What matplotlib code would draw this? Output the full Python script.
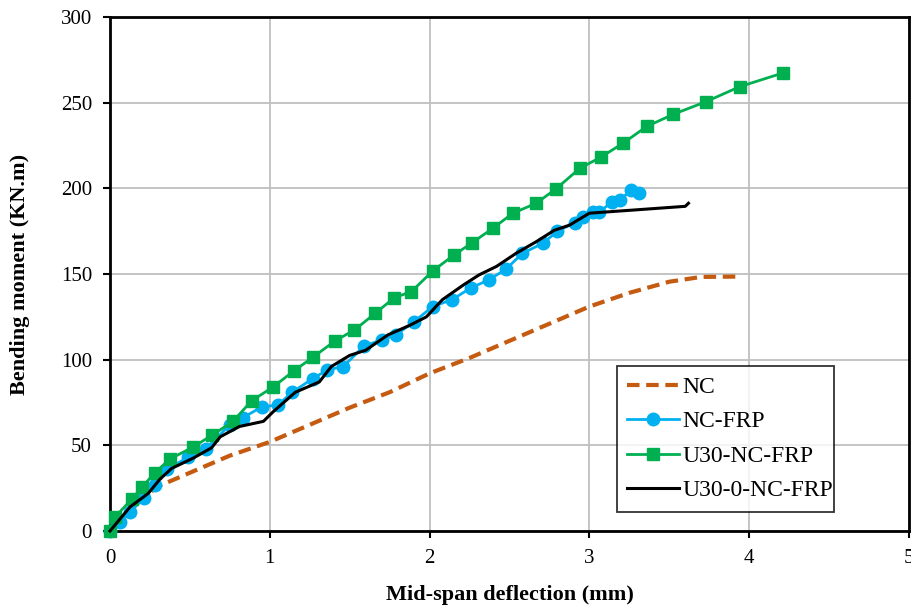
import matplotlib.pyplot as plt

plt.rcParams['font.family'] = ['Liberation Serif', 'DejaVu Serif']

# NC (dashed orange)
nc_x = [0, 0.1, 0.2, 0.3, 0.5, 0.75, 1.0, 1.25, 1.5, 1.75, 2.0, 2.25, 2.5, 2.75,
        3.0, 3.25, 3.5, 3.7, 3.93]
nc_y = [0, 10, 19, 26, 34, 44, 52, 62, 72, 81, 92, 101, 111, 121,
        131, 139, 145.5, 148.3, 148.5]

# NC-FRP (blue circles)
frp_x = [0, 0.06, 0.125, 0.21, 0.28, 0.354, 0.49, 0.6, 0.75, 0.83, 0.95, 1.05,
         1.14, 1.27, 1.36, 1.46, 1.59, 1.70, 1.79, 1.90, 2.02, 2.14, 2.26, 2.37,
         2.48, 2.58, 2.71, 2.80, 2.91, 2.96, 3.02, 3.06, 3.14, 3.19, 3.26, 3.31]
frp_y = [0, 5, 11, 19, 27, 36, 43, 48, 62, 66, 72.5, 73.5,
         81, 89, 94, 96, 108, 111.5, 114.5, 122, 131, 135, 142, 146.5,
         153, 162, 168, 175, 180, 183, 186, 186, 192, 193, 199, 197.5]

# U30-NC-FRP (green squares)
u30_x = [0, 0.03, 0.135, 0.2, 0.28, 0.375, 0.52, 0.64, 0.77, 0.886, 1.02, 1.15,
         1.27, 1.41, 1.53, 1.66, 1.78, 1.886, 2.02, 2.15, 2.267, 2.396, 2.52,
         2.667, 2.79, 2.94, 3.07, 3.21, 3.36, 3.525, 3.73, 3.94, 4.21]
u30_y = [0, 8, 18.5, 25.5, 34, 42, 49, 56, 64, 76, 84, 93.4,
         101.4, 111.1, 117.3, 127.1, 136.2, 139.7, 151.8, 160.9, 168.3, 176.7, 185.4,
         191.3, 199.6, 211.7, 218.1, 226.3, 236.2, 243.2, 250.6, 259.3, 267.3]

# U30-0-NC-FRP (black line)
u300_x = [0, 0.125, 0.24, 0.31, 0.385, 0.52, 0.635, 0.69, 0.81, 0.96, 1.02, 1.16,
          1.31, 1.385, 1.5, 1.6, 1.74, 1.875, 1.98, 2.08, 2.21, 2.31, 2.42, 2.54,
          2.67, 2.78, 2.875, 3.0, 3.6, 3.62]
u300_y = [0, 14, 22, 30, 36.5, 42.5, 48.5, 55, 61, 64, 69.5, 81,
          87, 96, 102.5, 105.5, 114.5, 120, 125, 135, 143.5, 149.5, 154.5, 162,
          169, 175.5, 178.5, 185.5, 189.5, 191.3]

fig = plt.figure(figsize=(9.12, 6.05), dpi=100)
ax = fig.add_axes([0.1206, 0.1223, 0.8761, 0.8496])

ax.plot(nc_x, nc_y, '--', color='#C55A11', lw=3, dashes=(3, 1.6), label='NC',
        clip_on=False, zorder=3)
ax.plot(frp_x, frp_y, '-o', color='#00B0F0', lw=2, ms=9, label='NC-FRP',
        clip_on=False, zorder=4)
ax.plot(u30_x, u30_y, '-s', color='#00B050', lw=2, ms=9, label='U30-NC-FRP',
        clip_on=False, zorder=5)
ax.plot(u300_x, u300_y, '-', color='black', lw=2.2, label='U30-0-NC-FRP',
        clip_on=False, zorder=6)

ax.set_xlim(0, 5)
ax.set_ylim(0, 300)
ax.set_xticks(range(0, 6))
ax.set_yticks(range(0, 301, 50))
ax.grid(True, color='#BFBFBF', lw=1.3)
ax.set_axisbelow(True)
for s in ax.spines.values():
    s.set_linewidth(2)
ax.tick_params(labelsize=15, width=1.5, length=5, direction='out')
ax.tick_params(axis='x', pad=8)
ax.tick_params(axis='y', pad=8)

ax.set_xlabel('Mid-span deflection (mm)', fontsize=16, fontweight='bold', labelpad=12)
ax.set_ylabel('Bending moment (KN.m)', fontsize=16, fontweight='bold', labelpad=22)

leg = ax.legend(loc='lower left', bbox_to_anchor=(0.634, 0.037, 0.2725, 0.286),
                mode='expand', borderaxespad=0, fontsize=17, frameon=True,
                fancybox=False, edgecolor='black', handlelength=2.2,
                labelspacing=0.55, borderpad=0.45, handletextpad=0.15)
leg.get_frame().set_linewidth(1.3)
for h in leg.legend_handles:
    h.set_markersize(9)

fig.savefig('out.png', dpi=100)
